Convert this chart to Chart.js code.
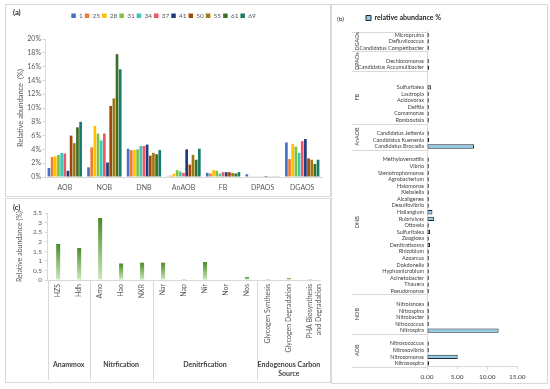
<!DOCTYPE html>
<html>
<head>
<meta charset="utf-8">
<script src="https://cdn.jsdelivr.net/npm/chart.js@4.4.1/dist/chart.umd.min.js"></script>
<style>
  html, body { margin: 0; padding: 0; background: #fff; }
  body { width: 550px; height: 389px; position: relative; overflow: hidden; font-family: Lato, sans-serif; }
  .panel { position: absolute; outline: 1px solid #d9d9d9; outline-offset: -1px; }
  .panel canvas { display: block; }
  .tag { position: absolute; color: #262626; font-weight: bold; font-size: 7.5px; line-height: 8px; }
</style>
</head>
<body>
<div class="panel" style="left:5px; top:4px; width:326px; height:193px;"><canvas id="chartA"></canvas></div>
<div class="panel" style="left:5px; top:198px; width:326px; height:185px;"><canvas id="chartC"></canvas></div>
<div class="panel" style="left:331px; top:4px; width:217px; height:380px;"><canvas id="chartB"></canvas></div>
<span class="tag" style="left:13px; top:9px;">(a)</span>
<span class="tag" style="left:13px; top:204px;">(c)</span>
<span class="tag" style="left:337px; top:15px; font-size:6.5px; font-weight:normal;">(b)</span>

<script>
// (a) functional groups, relative abundance (%) per sample
const aCategories = ['AOB', 'NOB', 'DNB', 'AnAOB', 'FB', 'DPAOS', 'DGAOS'];
const aSeries = ['1', '25', '28', '31', '34', '37', '41', '50', '55', '61', '69'];
const aValues = [
    [1.3, 1.4, 4.1, 0.05, 0.6, 0.4, 5.0],
    [2.9, 4.3, 3.9, 0.2, 0.5, 0.1, 2.6],
    [3.0, 7.4, 3.9, 0.5, 1.0, 0.1, 4.8],
    [3.2, 6.3, 4.0, 1.0, 0.9, 0.1, 4.4],
    [3.5, 5.3, 4.5, 0.8, 0.5, 0.1, 3.5],
    [3.4, 6.3, 4.5, 0.6, 0.7, 0.1, 5.2],
    [0.9, 2.1, 4.7, 4.0, 0.7, 0.15, 5.5],
    [6.0, 10.3, 3.1, 1.8, 0.7, 0.1, 2.7],
    [4.9, 11.4, 3.5, 3.2, 0.6, 0.1, 2.5],
    [7.2, 17.8, 3.3, 2.5, 0.5, 0.1, 1.9],
    [8.0, 15.6, 3.9, 4.1, 0.7, 0.1, 2.5]
];
const aColors = ['#4472C4', '#ED7D31', '#FFC000', '#7DC242', '#3CC8B4', '#F0566A',
                 '#1F3B7A', '#9E480E', '#9C7A12', '#3E6E26', '#167A6C'];

// (b) genera, grouped; '' rows are spacer rows
const bGroups = ['DGAOs', 'DPAOs', 'FB', 'AnAOB', 'DNB', 'NOB', 'AOB'];
const bGroupRows = [3, 3, 8, 4, 22, 6, 5];
const bGenera = [
    'Micropruina', 'Defluviicoccus', 'Candidatus Competibacter',
    '', 'Dechloromonas', 'Candidatus Accumulibacter',
    '', '', 'Sulfuritalea', 'Lautropia', 'Acidovorax', 'Delftia', 'Comamonas', 'Romboutsia',
    '', 'Candidatus Jettenia', 'Candidatus Kuenenia', 'Candidatus Brocadia',
    '', 'Methyloversatilis', 'Vibrio', 'Stenotrophomonas', 'Agrobacterium', 'Halomonas', 'Klebsiella',
    'Alcaligenes', 'Desulfovibrio', 'Haliangium', 'Rubrivivax', 'Ottowia', 'Sulfuritalea', 'Zoogloea',
    'Denitratisoma', 'Rhizobium', 'Azoarcus', 'Dokdonella', 'Hyphomicrobium', 'Acinetobacter', 'Thauera', 'Pseudomonas',
    '', 'Nitrolancea', 'Nitrospina', 'Nitrobacter', 'Nitrococcus', 'Nitrospira',
    '', 'Nitrosococcus', 'Nitrosovibrio', 'Nitrosomonas', 'Nitrosospira'
];
const bValues = [
    0.3, 0.3, 0.3,
    null, 0.3, 0.35,
    null, null, 0.7, 0.3, 0.3, 0.3, 0.3, 0.3,
    null, 0.3, 0.35, 7.8,
    null, 0.3, 0.3, 0.3, 0.3, 0.3, 0.3,
    0.3, 0.3, 0.9, 1.2, 0.3, 0.5, 0.3,
    0.5, 0.3, 0.3, 0.3, 0.3, 0.3, 0.3, 0.3,
    null, 0.3, 0.3, 0.3, 0.3, 11.9,
    null, 0.3, 0.3, 5.1, 0.35
];
const bTicks = [0, 5, 10, 15];

// (c) functional genes
const cGenes = ['HZS', 'Hdh', 'Amo', 'Hao', 'NXR', 'Nar', 'Nap', 'Nir', 'Nor', 'Nos',
                'Glycogen Synthesis', 'Glycogen Degradation', ['PHA Biosynthesis', 'and Degradation']];
const cValues = [1.89, 1.68, 3.25, 0.86, 0.91, 0.91, 0.05, 0.94, 0.02, 0.16, 0.05, 0.09, 0.05];
const cPathways = [['Anammox'], ['Nitrfication'], ['Denitrfication'], ['Endogenous Carbon', 'Source']];
const cPathwayGenes = [2, 3, 5, 3];

Chart.defaults.font.family = "Lato, 'Open Sans', sans-serif";
Chart.defaults.color = '#595959';

const GRID = '#D9D9D9';

// moves the legend without giving back the space it reserved
const legendNudge = {
    id: 'legendNudge',
    afterLayout(chart, args, opts) {
        const lg = chart.legend;
        if (!lg || !opts) return;
        const dx = opts.dx || 0, dy = opts.dy || 0;
        lg.left += dx;
        lg.right += dx;
        lg.top += dy;
        lg.bottom += dy;
    }
};

function hline(ctx, x0, x1, y) {
    const yy = Math.round(y) + 0.5;
    ctx.beginPath();
    ctx.moveTo(x0, yy);
    ctx.lineTo(x1, yy);
    ctx.stroke();
}

function vline(ctx, x, y0, y1) {
    const xx = Math.round(x) + 0.5;
    ctx.beginPath();
    ctx.moveTo(xx, y0);
    ctx.lineTo(xx, y1);
    ctx.stroke();
}

// group labels of panel (b), left of the genus names
const bGroupPlugin = {
    id: 'bGroups',
    afterDraw(chart) {
        const { ctx, chartArea } = chart;
        const y = chart.scales.y;
        const x0 = chartArea.left - 75;
        const x1 = chartArea.left;
        ctx.save();
        ctx.strokeStyle = GRID;
        ctx.lineWidth = 1;
        ctx.fillStyle = '#404040';
        ctx.font = "5.5px Lato, 'Open Sans', sans-serif";
        ctx.textAlign = 'center';
        ctx.textBaseline = 'middle';
        let row = 0;
        bGroups.forEach((name, i) => {
            const top = y.getPixelForValue(row - 0.5);
            const bottom = y.getPixelForValue(row + bGroupRows[i] - 0.5);
            hline(ctx, x0, x1, top);
            ctx.save();
            ctx.translate(x0 + 5, (top + bottom) / 2);
            ctx.rotate(-Math.PI / 2);
            ctx.fillText(name, 0, 0);
            ctx.restore();
            row += bGroupRows[i];
        });
        hline(ctx, x0, x1, y.getPixelForValue(row - 0.5));
        ctx.restore();
    }
};

// pathway labels of panel (c), under the gene names
const cGroupPlugin = {
    id: 'cGroups',
    afterDraw(chart) {
        const { ctx, chartArea } = chart;
        const x = chart.scales.x;
        const top = chartArea.bottom;
        ctx.save();
        ctx.strokeStyle = GRID;
        ctx.lineWidth = 1;
        ctx.fillStyle = '#404040';
        ctx.font = "bold 7px Lato, 'Open Sans', sans-serif";
        ctx.textAlign = 'center';
        ctx.textBaseline = 'middle';
        let start = 0;
        vline(ctx, x.getPixelForValue(-0.5), top, top + 100);
        cPathways.forEach((lines, i) => {
            const left = x.getPixelForValue(start - 0.5);
            const right = x.getPixelForValue(start + cPathwayGenes[i] - 0.5);
            if (i < cPathways.length - 1) vline(ctx, right, top, top + 100);
            lines.forEach((t, k) => ctx.fillText(t, (left + right) / 2, top + 85 + k * 9));
            start += cPathwayGenes[i];
        });
        ctx.restore();
    }
};

// panel (a)
new Chart(document.getElementById('chartA'), {
    type: 'bar',
    data: {
        labels: aCategories,
        datasets: aSeries.map((name, i) => ({
            label: name,
            data: aValues[i],
            backgroundColor: aColors[i],
            borderWidth: 0,
            categoryPercentage: 0.88,
            barPercentage: 0.85
        }))
    },
    options: {
        responsive: true,
        maintainAspectRatio: false,
        animation: false,
        events: [],
        layout: { padding: { left: 0, right: 9, top: 16.5, bottom: 0 } },
        plugins: {
            legend: {
                position: 'top',
                labels: { boxWidth: 4.5, boxHeight: 4.5, padding: 2, color: '#595959', font: { size: 6.5 } }
            },
            tooltip: { enabled: false },
            legendNudge: { dy: -10 }
        },
        scales: {
            x: {
                grid: { display: false, drawTicks: false },
                border: { color: GRID },
                ticks: { color: '#595959', font: { size: 7 }, padding: 6.5 },
                afterFit: s => { s.height = 20; }
            },
            y: {
                min: 0,
                max: 20,
                ticks: { stepSize: 2, callback: v => v + '%', color: '#595959', font: { size: 7 }, padding: 1 },
                grid: { drawOnChartArea: false, tickLength: 3, color: GRID },
                border: { color: GRID },
                title: {
                    display: true,
                    text: 'Relative abundance  (%)',
                    color: '#595959',
                    font: { size: 7.5 },
                    padding: { top: 11, bottom: 0 }
                },
                afterFit: s => { s.width = 40; }
            }
        }
    },
    plugins: [legendNudge]
});

// panel (c)
new Chart(document.getElementById('chartC'), {
    type: 'bar',
    data: {
        labels: cGenes,
        datasets: [{
            label: 'Relative abundance (%)',
            data: cValues,
            borderWidth: 0,
            categoryPercentage: 0.8,
            barPercentage: 0.24,
            backgroundColor: c => {
                const chart = c.chart;
                if (!chart.chartArea || c.type !== 'data') return '#70AD47';
                const y = chart.scales.y;
                const top = y.getPixelForValue(c.raw);
                const bottom = y.getPixelForValue(0);
                if (bottom - top < 1) return '#A9D18E';
                const g = chart.ctx.createLinearGradient(0, top, 0, bottom);
                g.addColorStop(0, '#4A8C2A');
                g.addColorStop(1, '#CDE8BC');
                return g;
            }
        }]
    },
    options: {
        responsive: true,
        maintainAspectRatio: false,
        animation: false,
        events: [],
        layout: { padding: { left: 0, right: 7.7, top: 15.3, bottom: 0 } },
        plugins: { legend: { display: false }, tooltip: { enabled: false } },
        scales: {
            x: {
                grid: { display: false, drawTicks: false },
                border: { color: GRID },
                ticks: { minRotation: 90, maxRotation: 90, autoSkip: false, color: '#595959', font: { size: 7 }, padding: 4 },
                afterFit: s => { s.height = 103; }
            },
            y: {
                min: 0,
                max: 3.5,
                ticks: { stepSize: 0.5, autoSkip: false, callback: v => String(v), color: '#595959', font: { size: 6.5 }, padding: 2.7 },
                grid: { drawOnChartArea: false, tickLength: 3, color: GRID },
                border: { color: GRID },
                title: {
                    display: true,
                    text: 'Relative abundance (%)',
                    color: '#595959',
                    font: { size: 7 },
                    padding: { top: 10.8, bottom: 0 }
                },
                afterFit: s => { s.width = 42.7; }
            }
        }
    },
    plugins: [cGroupPlugin]
});

// panel (b)
new Chart(document.getElementById('chartB'), {
    type: 'bar',
    data: {
        labels: bGenera,
        datasets: [{
            label: 'relative abundance %',
            data: bValues,
            backgroundColor: '#8FCBEA',
            borderColor: '#262626',
            borderWidth: 1,
            borderSkipped: false,
            categoryPercentage: 0.8,
            barPercentage: 0.82
        }]
    },
    options: {
        indexAxis: 'y',
        responsive: true,
        maintainAspectRatio: false,
        animation: false,
        events: [],
        layout: { padding: { left: 0, right: 30.7, top: 8.5, bottom: 0 } },
        plugins: {
            legend: {
                position: 'top',
                align: 'start',
                labels: { boxWidth: 5, boxHeight: 5, padding: 2, color: '#262626', font: { size: 7, weight: 'bold' } }
            },
            tooltip: { enabled: false },
            legendNudge: { dx: 33 }
        },
        scales: {
            x: {
                min: 0,
                max: 15,
                afterBuildTicks: s => { s.ticks = bTicks.map(v => ({ value: v })); },
                ticks: { callback: v => Number(v).toFixed(2), color: '#404040', font: { size: 6.5 }, padding: 3 },
                grid: { drawOnChartArea: false, tickLength: 3, color: GRID },
                border: { color: GRID },
                afterFit: s => { s.height = 17.3; }
            },
            y: {
                ticks: { autoSkip: false, color: '#404040', font: { size: 5.5 }, padding: 3 },
                grid: { display: false, drawTicks: false },
                border: { color: GRID },
                afterFit: s => { s.width = 96; }
            }
        }
    },
    plugins: [bGroupPlugin, legendNudge]
});
</script>
</body>
</html>
